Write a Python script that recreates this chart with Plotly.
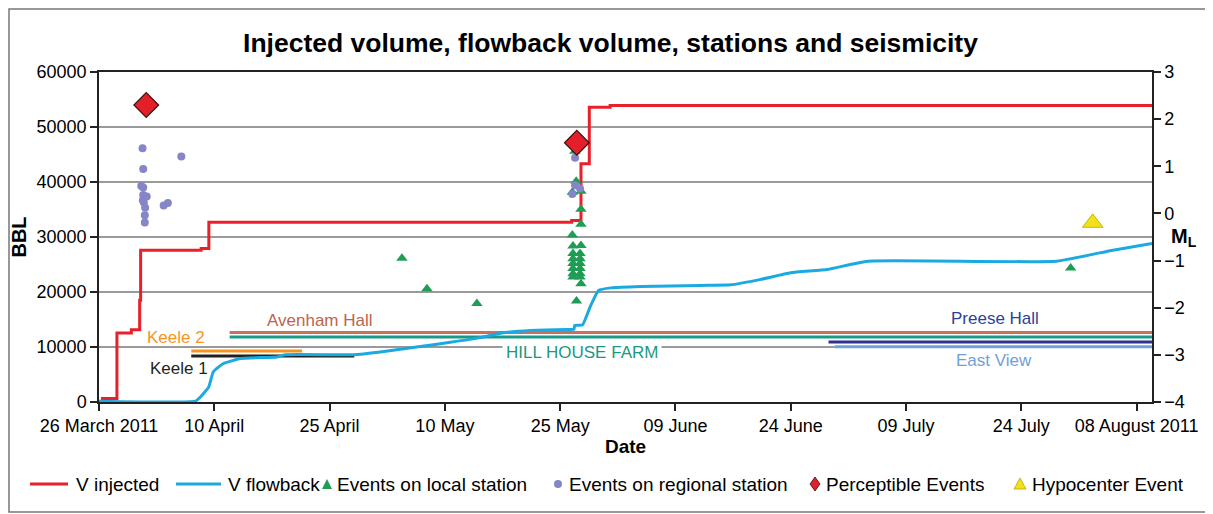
import plotly.graph_objects as go

# ---------------- data ----------------
inj_dates = ['2011-03-26 06:00', '2011-03-28 08:00', '2011-03-30 05:00', '2011-03-31 07:00',
             '2011-03-31 10:00', '2011-04-08 07:00', '2011-04-09 07:00', '2011-05-26 12:00',
             '2011-05-27 17:00', '2011-05-28 19:00', '2011-05-31 12:00', '2011-08-10 00:00']
inj_vals = [650, 12550, 13150, 18500, 27600, 27900, 32700, 33000, 43300, 53600, 53900, 53900]

fb_dates = ['2011-03-26 00:00', '2011-04-07 13:00', '2011-04-08 04:30', '2011-04-09 06:30',
            '2011-04-09 21:00', '2011-04-11 04:30', '2011-04-13 09:30', '2011-04-18 04:00',
            '2011-04-19 06:00', '2011-04-28 02:30', '2011-05-01 14:30', '2011-05-06 19:00',
            '2011-05-10 17:00', '2011-05-14 15:00', '2011-05-17 06:00', '2011-05-21 02:30',
            '2011-05-26 00:00', '2011-05-26 19:00', '2011-05-26 21:30', '2011-05-27 21:30',
            '2011-05-28 23:00', '2011-05-30 00:00', '2011-05-31 14:00', '2011-06-04 12:00',
            '2011-06-12 07:00', '2011-06-16 05:00', '2011-06-20 02:30', '2011-06-24 00:00',
            '2011-06-28 19:00', '2011-07-04 00:00', '2011-07-28 14:00', '2011-08-04 22:00',
            '2011-08-10 00:00']
fb_vals = [150, 150, 900, 2700, 5500, 7000, 7900, 8200, 8600, 8600, 9100, 10100, 10850, 11700,
           12500, 13000, 13200, 13200, 13950, 14000, 17500, 20300, 20750, 21000, 21200, 21300,
           22300, 23500, 24100, 25600, 25600, 27600, 28800]

local_dates = ['2011-05-04 10:00', '2011-05-07 16:00', '2011-05-14 04:00',
               '2011-05-26 22:00', '2011-05-27 02:00', '2011-05-26 14:00', '2011-05-27 17:00',
               '2011-05-27 17:00', '2011-05-27 17:00', '2011-05-26 14:00', '2011-05-27 17:00',
               '2011-05-26 16:00', '2011-05-26 16:00', '2011-05-26 16:00', '2011-05-26 16:00',
               '2011-05-26 16:00', '2011-05-26 16:00', '2011-05-26 16:00', '2011-05-27 14:00',
               '2011-05-27 14:00', '2011-05-27 14:00', '2011-05-27 14:00', '2011-05-27 14:00',
               '2011-05-27 14:00', '2011-05-27 17:00', '2011-05-27 03:00', '2011-07-30 10:00']
local_ml = [-0.95, -1.60, -1.91,
            1.32, 0.68, 0.45, 0.47, 0.09, -0.23, -0.46, -0.68,
            -0.69, -0.85, -0.96, -1.06, -1.17, -1.28, -1.35, -0.85,
            -0.96, -1.06, -1.17, -1.28, -1.35, -1.49, -1.86, -1.16]

regional_dates = ['2011-03-31 16:00', '2011-03-31 18:00', '2011-03-31 12:00', '2011-03-31 18:00',
                  '2011-03-31 18:00', '2011-04-01 05:00', '2011-03-31 17:00', '2011-03-31 20:00',
                  '2011-04-01 00:00', '2011-03-31 23:00', '2011-03-31 23:00', '2011-04-03 10:00',
                  '2011-04-03 23:00', '2011-04-05 17:00',
                  '2011-05-26 22:30', '2011-05-26 22:30', '2011-05-27 14:00', '2011-05-26 14:00']
regional_ml = [1.38, 0.94, 0.58, 0.55, 0.39, 0.36, 0.28, 0.23, 0.12, -0.04, -0.19, 0.17, 0.22, 1.21,
               1.18, 0.60, 0.53, 0.41]

percept_dates = ['2011-04-01 03:30', '2011-05-27 04:00']
percept_ml = [2.3, 1.5]

hypo_dates = ['2011-08-02 07:00']
hypo_ml = [-0.2]

stations = ['Avenham Hall', 'HILL HOUSE FARM', 'Keele 2', 'Keele 1', 'Preese Hall', 'East View']
station_start = ['2011-04-12 00:00', '2011-04-12 00:00', '2011-04-07 00:00', '2011-04-07 00:00',
                 '2011-06-28 22:00', '2011-06-29 18:00']
station_end = ['2011-08-10 00:00', '2011-08-10 00:00', '2011-04-21 10:00', '2011-04-28 05:00',
               '2011-08-10 00:00', '2011-08-10 00:00']
station_level = [12650, 11820, 9270, 8360, 10900, 10060]
station_colors = ['#c9705b', '#1a9a86', '#f7941d', '#231f20', '#2e3192', '#6fa3d8']
label_x = ['2011-04-23 19:00', '2011-05-27 20:00', '2011-04-05 01:00', '2011-04-05 10:00',
           '2011-07-20 13:00', '2011-07-20 12:00']
label_y = [14850, 9040, 11760, 6130, 15220, 7580]
label_colors = ['#c0634c', '#1a9882', '#f7941d', '#231f20', '#2e3f99', '#6fa1d8']

x_tickvals = ['2011-03-26', '2011-04-10', '2011-04-25', '2011-05-10', '2011-05-25',
              '2011-06-09', '2011-06-24', '2011-07-09', '2011-07-24', '2011-08-08']
x_ticktext = ['26 March 2011', '10 April', '25 April', '10 May', '25 May',
              '09 June', '24 June', '09 July', '24 July', '08 August 2011']

legend_names = ['V injected', 'V flowback', 'Events on local station',
                'Events on regional station', 'Perceptible Events', 'Hypocenter Event']

FONT = 'Liberation Sans, Arial, sans-serif'
OFF = 8                      # page body margin of the browser
W, H = 1205, 506
ML_, MR_, MT_, MB_ = 91, 61, 64, 112
PW, PH = W - ML_ - MR_, H - MT_ - MB_


def px_x(px):
    """page pixel x -> paper x"""
    return (px - OFF - ML_) / PW


def px_y(py):
    """page pixel y -> paper y"""
    return (H - MB_ - (py - OFF)) / PH


fig = go.Figure()

# station lines
for i, name in enumerate(stations):
    fig.add_trace(go.Scatter(x=[station_start[i], station_end[i]],
                             y=[station_level[i], station_level[i]],
                             mode='lines', line=dict(color=station_colors[i], width=3),
                             showlegend=False, hoverinfo='skip', yaxis='y'))

fig.add_trace(go.Scatter(x=inj_dates, y=inj_vals, mode='lines', name=legend_names[0],
                         line=dict(color='#e8202a', width=3, shape='hv'), yaxis='y',
                         showlegend=False))
fig.add_trace(go.Scatter(x=fb_dates, y=fb_vals, mode='lines', name=legend_names[1],
                         line=dict(color='#1ba9e1', width=3, shape='spline', smoothing=0.4),
                         yaxis='y', showlegend=False))
fig.add_trace(go.Scatter(x=local_dates, y=local_ml, mode='markers', name=legend_names[2],
                         marker=dict(symbol='triangle-up', size=10, color='#1f9d55'),
                         yaxis='y2', showlegend=False))
fig.add_trace(go.Scatter(x=regional_dates, y=regional_ml, mode='markers', name=legend_names[3],
                         marker=dict(symbol='circle', size=8, color='#8585c8'),
                         yaxis='y2', showlegend=False))
fig.add_trace(go.Scatter(x=percept_dates, y=percept_ml, mode='markers', name=legend_names[4],
                         marker=dict(symbol='diamond', size=19, color='#e3202a',
                                     line=dict(color='#3a1010', width=1.2)),
                         yaxis='y2', showlegend=False))
fig.add_trace(go.Scatter(x=hypo_dates, y=hypo_ml, mode='markers', name=legend_names[5],
                         marker=dict(symbol='triangle-up', size=18, color='#f2e01a',
                                     line=dict(color='#b8a800', width=0.8)),
                         yaxis='y2', showlegend=False))

annotations = []
for i, name in enumerate(stations):
    annotations.append(dict(x=label_x[i], y=label_y[i], xref='x', yref='y', text=name,
                            showarrow=False, font=dict(family=FONT, size=17, color=label_colors[i]),
                            bgcolor='white' if name == 'HILL HOUSE FARM' else 'rgba(0,0,0,0)',
                            borderpad=3))
annotations.append(dict(x=px_x(1199), y=px_y(237), xref='paper', yref='paper',
                        text='<b>M<sub>L</sub></b>', showarrow=False,
                        font=dict(family=FONT, size=20, color='black')))

# ---- manual legend (single row, as in the reference) ----
LEG_Y = 484
leg_text_x = [74, 226, 335, 567, 824, 1030]
shapes = []
shapes.append(dict(type='line', xref='paper', yref='paper', x0=px_x(30), x1=px_x(68),
                   y0=px_y(LEG_Y), y1=px_y(LEG_Y), line=dict(color='#e8202a', width=3)))
shapes.append(dict(type='line', xref='paper', yref='paper', x0=px_x(176), x1=px_x(221),
                   y0=px_y(LEG_Y), y1=px_y(LEG_Y), line=dict(color='#1ba9e1', width=3)))
shapes.append(dict(type='path', xref='paper', yref='paper', xsizemode='pixel', ysizemode='pixel',
                   xanchor=px_x(327), yanchor=px_y(LEG_Y), path='M -5,-5 L 5,-5 L 0,5 Z',
                   fillcolor='#1f9d55', line=dict(width=0)))
shapes.append(dict(type='circle', xref='paper', yref='paper', xsizemode='pixel',
                   ysizemode='pixel', xanchor=px_x(558), yanchor=px_y(LEG_Y),
                   x0=-4, x1=4, y0=-4, y1=4, fillcolor='#8585c8', line=dict(width=0)))
shapes.append(dict(type='path', xref='paper', yref='paper', xsizemode='pixel', ysizemode='pixel',
                   xanchor=px_x(815), yanchor=px_y(LEG_Y), path='M 0,7 L 5,0 L 0,-7 L -5,0 Z',
                   fillcolor='#e3202a', line=dict(color='#3a1010', width=0.8)))
shapes.append(dict(type='path', xref='paper', yref='paper', xsizemode='pixel', ysizemode='pixel',
                   xanchor=px_x(1020), yanchor=px_y(LEG_Y), path='M -6,-5 L 6,-5 L 0,6 Z',
                   fillcolor='#f2e01a', line=dict(color='#b8a800', width=0.8)))
for i, name in enumerate(legend_names):
    annotations.append(dict(x=px_x(leg_text_x[i]), y=px_y(LEG_Y), xref='paper', yref='paper',
                            xanchor='left', yanchor='middle', text=name, showarrow=False,
                            font=dict(family=FONT, size=19, color='black')))

# outer frame
shapes.append(dict(type='rect', xref='paper', yref='paper', x0=px_x(9), x1=px_x(1211),
                   y0=px_y(512), y1=px_y(9), line=dict(color='#777', width=1.5)))

fig.update_layout(
    width=W, height=H,
    margin=dict(l=ML_, r=MR_, t=MT_, b=MB_, autoexpand=False),
    paper_bgcolor='white', plot_bgcolor='white',
    font=dict(family=FONT, size=18, color='black'),
    title=dict(text='<b>Injected volume, flowback volume, stations and seismicity</b>',
               x=(610.5 - OFF) / W, xanchor='center', y=1 - (43 - OFF) / H, yanchor='middle',
               font=dict(family=FONT, size=26.5, color='black')),
    xaxis=dict(type='date', range=['2011-03-26', '2011-08-10'],
               tickvals=x_tickvals, ticktext=x_ticktext, ticks='outside', ticklen=7,
               tickwidth=1.5, tickcolor='#222', showgrid=False, showline=True,
               linecolor='#222', linewidth=1.5, mirror=True, zeroline=False,
               tickfont=dict(size=18), automargin=False,
               title=dict(text='<b>Date</b>', font=dict(size=19), standoff=2)),
    yaxis=dict(range=[0, 60000], tickvals=[0, 10000, 20000, 30000, 40000, 50000, 60000],
               ticktext=['0', '10000', '20000', '30000', '40000', '50000', '60000'],
               ticks='outside', ticklen=7, tickwidth=1.5, tickcolor='#222',
               showgrid=True, gridcolor='#9a9a9a', gridwidth=1.5,
               showline=True, linecolor='#222', linewidth=1.5, zeroline=False,
               tickfont=dict(size=18), automargin=False,
               title=dict(text='<b>BBL</b>', font=dict(size=20), standoff=8)),
    yaxis2=dict(range=[-4, 3], tickvals=[-4, -3, -2, -1, 0, 1, 2, 3],
                overlaying='y', side='right', ticks='outside', ticklen=7, tickwidth=1.5,
                tickcolor='#222', showgrid=False, showline=True, linecolor='#222',
                linewidth=1.5, zeroline=False, tickfont=dict(size=18), automargin=False),
    annotations=annotations,
    shapes=shapes,
    showlegend=False,
)

fig.write_html('out.html')
